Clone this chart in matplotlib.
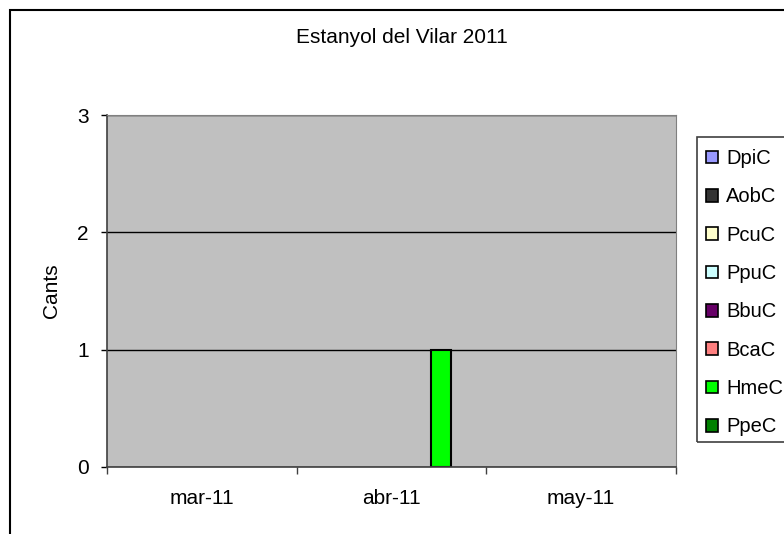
import matplotlib
matplotlib.use("Agg")
import matplotlib.pyplot as plt
import numpy as np
from matplotlib.patches import Rectangle

plt.rcParams['font.family'] = ['Liberation Sans', 'DejaVu Sans']

months = ["mar-11", "abr-11", "may-11"]
species = ["DpiC", "AobC", "PcuC", "PpuC", "BbuC", "BcaC", "HmeC", "PpeC"]
colors = ["#9999FF", "#333333", "#FFFFCC", "#CCFFFF", "#660066", "#FF8080", "#00FF00", "#008000"]
counts = {
    "DpiC": [0, 0, 0],
    "AobC": [0, 0, 0],
    "PcuC": [0, 0, 0],
    "PpuC": [0, 0, 0],
    "BbuC": [0, 0, 0],
    "BcaC": [0, 0, 0],
    "HmeC": [0, 1, 0],
    "PpeC": [0, 0, 0],
}

W, H = 784, 534
fig = plt.figure(figsize=(W / 100, H / 100), dpi=100)
ax = fig.add_axes([107 / W, 1 - 467 / H, (676 - 107) / W, (467 - 115) / H])
ax.set_facecolor("#C0C0C0")

x = np.arange(len(months))
bw = 0.105
handles = []
for i, (name, col) in enumerate(zip(species, colors)):
    vals = counts[name]
    off = (i - (len(species) - 1) / 2) * bw
    # empty bars get no outline, as in the original
    lws = [1.5 if v else 0 for v in vals]
    ax.bar(x + off, vals, width=bw, color=col, edgecolor="black", linewidth=lws, zorder=2)
    handles.append(Rectangle((0, 0), 1, 1, facecolor=col, edgecolor="black", linewidth=1.2))

ax.set_xlim(-0.5, 2.5)
ax.set_ylim(0, 3)
ax.set_yticks([0, 1, 2, 3])
ax.yaxis.grid(True, color="black", linewidth=1)
ax.set_axisbelow(True)
ax.tick_params(axis="y", direction="out", length=4, width=1, labelsize=15, pad=9, colors="black")

ax.set_xticks([-0.5, 0.5, 1.5, 2.5])
ax.set_xticklabels([])
ax.set_xticks(x, minor=True)
ax.set_xticklabels(months, minor=True)
ax.tick_params(axis="x", which="major", direction="out", length=5, width=1, color="#404040")
ax.tick_params(axis="x", which="minor", length=0, labelsize=15, pad=16)

for s in ["top", "right"]:
    ax.spines[s].set_color("#808080")
for s in ["left", "bottom"]:
    ax.spines[s].set_color("#404040")
    ax.spines[s].set_linewidth(1.2)

fig.text(52 / W, 1 - 291 / H, "Cants", rotation=90, ha="center", va="center", fontsize=15)
fig.text(402 / W, 1 - 37 / H, "Estanyol del Vilar 2011", ha="center", va="center", fontsize=15)

leg = fig.legend(handles, species, loc="upper left", bbox_to_anchor=(702 / W, 1 - 145 / H),
                 frameon=False, fontsize=14.5, handlelength=0.6, handleheight=0.6,
                 handletextpad=0.4, labelspacing=0.96, borderpad=0.2, borderaxespad=0)

fig.patches.append(Rectangle((697 / W, 1 - 442 / H), 0.2, (442 - 137) / H, transform=fig.transFigure,
                             facecolor="none", edgecolor="#404040", linewidth=1.2, clip_on=False))
fig.patches.append(Rectangle((10 / W, -0.2), 1.1, 1.2 - 10 / H, transform=fig.transFigure,
                             facecolor="none", edgecolor="black", linewidth=1.5, clip_on=False))

fig.savefig("out.png", dpi=100)
